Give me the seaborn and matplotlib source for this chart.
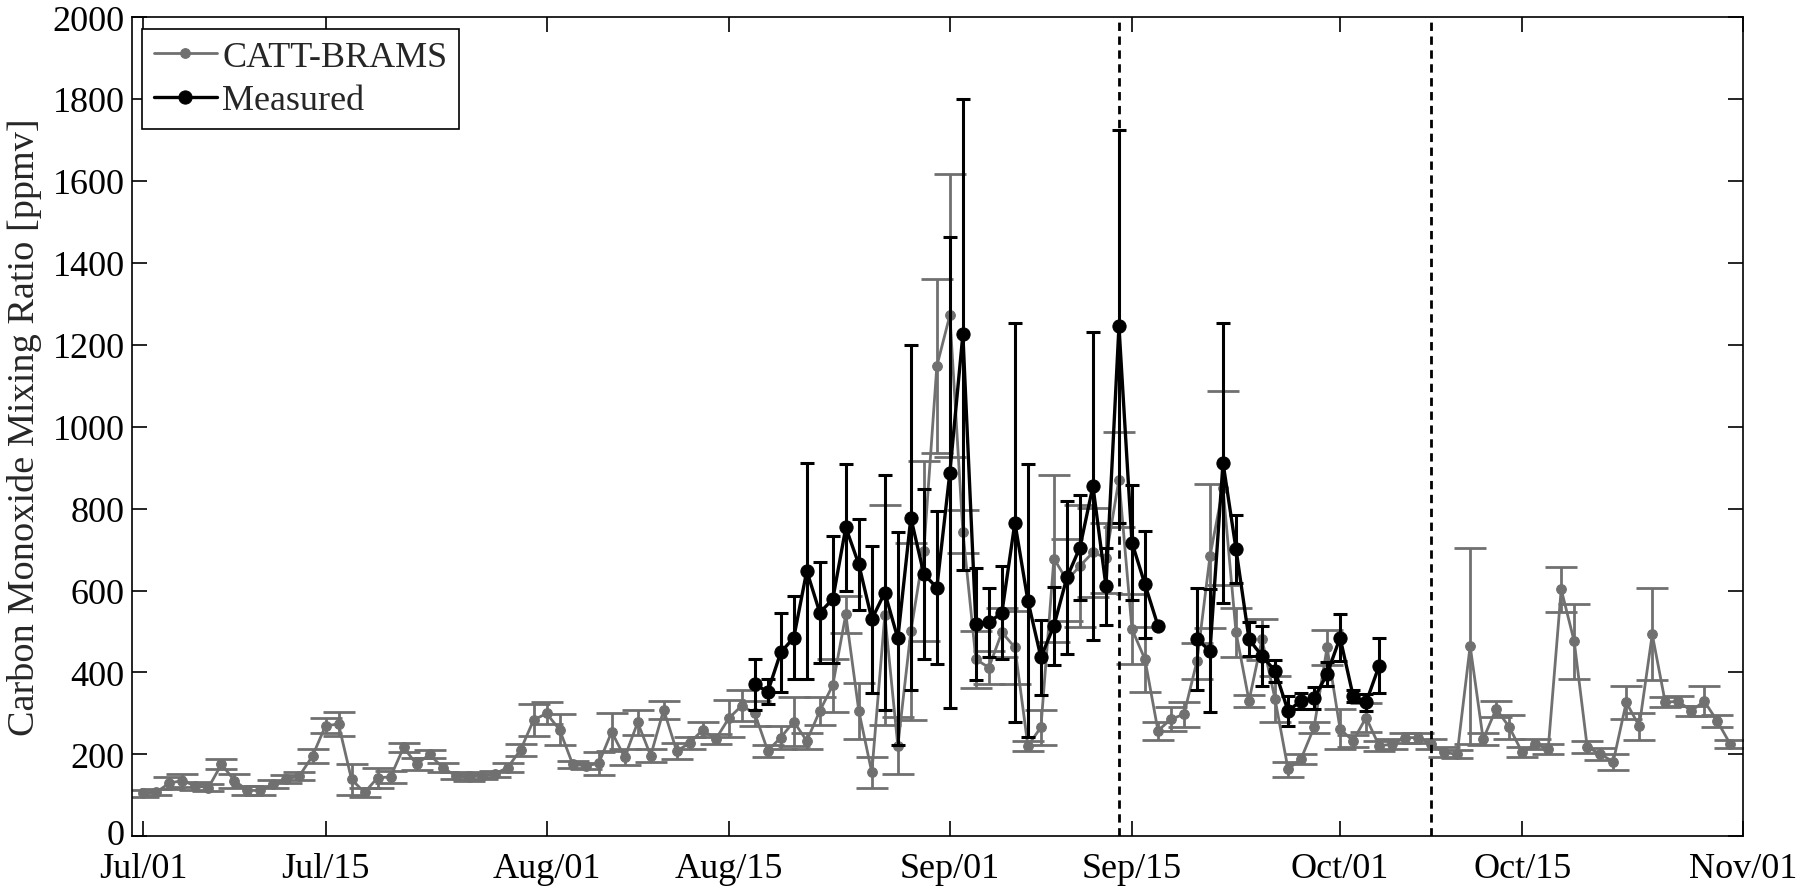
import numpy as np
import pandas as pd
import matplotlib
matplotlib.use("Agg")
import matplotlib.pyplot as plt
import matplotlib.transforms as mtransforms
import seaborn as sns

# ---------------- data ----------------
start_date = "2012-07-01"
catt_values = [105,108,130,136,123,119,176,136,112,112,127,139,148,196,270,274,139,107,143,145,217,176,200,168,148,144,148,152,168,211,
               284,300,260,176,172,178,255,193,278,197,309,208,228,260,237,288,319,300,209,241,280,233,306,369,542,306,156,540,221,500,
               697,1148,1272,744,432,412,498,461,221,266,678,625,660,693,680,871,506,432,258,286,298,428,684,850,498,331,481,335,164,189,
               266,461,262,233,290,221,225,241,241,225,205,200,465,237,311,267,205,225,213,603,476,218,201,182,327,269,493,327,330,306,330,281,225]
catt_err = [8,8,15,15,10,8,12,17,12,10,10,10,10,18,18,30,37,10,25,15,12,15,10,10,8,8,8,8,10,15,
            38,27,38,8,8,28,47,20,30,15,22,20,15,18,12,45,37,30,15,28,60,20,35,65,45,68,37,268,70,215,
            219,212,345,52,70,40,60,90,12,42,203,100,150,109,86,115,85,80,22,30,30,45,175,237,60,15,50,57,18,12,
            14,42,50,15,36,12,12,12,12,12,12,10,240,15,20,29,12,12,12,55,91,15,15,19,40,33,112,12,12,12,37,15,10]

meas_start = "2012-08-17"
nan = np.nan
meas_values = [371,353,449,485,648,546,579,754,664,530,595,483,778,640,607,888,1225,518,522,546,766,575,437,514,632,705,855,611,1245,717,615,514,
               nan,nan,481,453,912,701,481,440,404,306,331,337,396,485,343,327,416]
meas_err = [62,30,97,101,264,124,155,155,111,179,286,259,421,207,187,575,574,136,85,114,486,333,92,95,187,128,375,94,479,140,130,0,
            nan,nan,124,150,342,83,41,73,27,36,20,27,30,57,15,20,67]

vline_dates = ["2012-09-14", "2012-10-08"]
xtick_dates = ["2012-07-01","2012-07-15","2012-08-01","2012-08-15","2012-09-01",
               "2012-09-15","2012-10-01","2012-10-15","2012-11-01"]
xtick_labels = ["Jul/01","Jul/15","Aug/01","Aug/15","Sep/01","Sep/15","Oct/01","Oct/15","Nov/01"]
yticks = list(range(0, 2001, 200))
ylabel = "Carbon Monoxide Mixing Ratio [ppmv]"
series_names = ["CATT-BRAMS", "Measured"]

# ---------------- frames ----------------
catt_df = pd.DataFrame({
    "date": pd.date_range(start_date, periods=len(catt_values), freq="D"),
    "co": catt_values, "err": catt_err})
meas_df = pd.DataFrame({
    "date": pd.date_range(meas_start, periods=len(meas_values), freq="D"),
    "co": meas_values, "err": meas_err})
meas_df["seg"] = meas_df["co"].isna().cumsum()
meas_ok = meas_df.dropna()
meas_bars = meas_ok[meas_ok["err"] > 0]

# ---------------- style ----------------
sns.set_theme(style="ticks")
plt.rcParams["font.family"] = ["Liberation Serif", "DejaVu Serif"]
plt.rcParams["axes.linewidth"] = 1.2
plt.rcParams["xtick.direction"] = "in"
plt.rcParams["ytick.direction"] = "in"

GRAY = "#707070"
BLACK = "#000000"

fig = plt.figure(figsize=(18, 8.87), dpi=100)
ax = fig.add_axes([0.0732, 0.056, 0.8953, 0.9237])

# CATT-BRAMS
ax.errorbar(catt_df["date"], catt_df["co"], yerr=catt_df["err"], fmt="none",
            ecolor=GRAY, elinewidth=2.0, capsize=11.5, capthick=2.0, zorder=2)
sns.lineplot(data=catt_df, x="date", y="co", ax=ax, color=GRAY, linewidth=2.0,
             marker="o", markersize=7, markeredgecolor=GRAY, label=series_names[0],
             zorder=3, estimator=None)

# Measured
ax.errorbar(meas_bars["date"], meas_bars["co"], yerr=meas_bars["err"], fmt="none",
            ecolor=BLACK, elinewidth=2.2, capsize=4.8, capthick=2.2, zorder=4)
for i, (seg, sub) in enumerate(meas_ok.groupby("seg")):
    sns.lineplot(data=sub, x="date", y="co", ax=ax, color=BLACK, linewidth=2.4,
                 marker="o", markersize=9.5, markeredgecolor=BLACK,
                 label=series_names[1] if i == 0 else "_nolegend_", zorder=5,
                 estimator=None)

for d in vline_dates:
    ax.axvline(pd.Timestamp(d), color=BLACK, linestyle=(0, (3, 2)), linewidth=2.0, zorder=6)

# axes
x0 = pd.Timestamp(start_date) - pd.Timedelta(hours=21.5)
x1 = pd.Timestamp(xtick_dates[-1])
ax.set_xlim(x0, x1)
ax.set_ylim(0, 2000)
ax.set_xticks([pd.Timestamp(d) for d in xtick_dates])
ax.set_xticklabels(xtick_labels)
ax.set_yticks(yticks)
ax.tick_params(axis="both", which="both", direction="in", length=11, width=1.2,
               labelsize=26, top=True, right=True, colors="black")
ax.tick_params(axis="x", pad=11)
ax.tick_params(axis="y", pad=5)
ax.set_xlabel("")
ax.set_ylabel(ylabel, fontsize=27.5, labelpad=8)
for sp in ax.spines.values():
    sp.set_visible(True)
    sp.set_color("black")
    sp.set_linewidth(1.2)

# nudge the "0" y label up a few pixels so it does not touch "Jul/01"
zero_lbl = ax.get_yticklabels()[0]
zero_lbl.set_transform(zero_lbl.get_transform() +
                       mtransforms.ScaledTranslation(0, 5 / 100, fig.dpi_scale_trans))

leg = ax.legend(loc="upper left", bbox_to_anchor=(0.0064, 0.9854), borderaxespad=0,
                fontsize=26, frameon=True, fancybox=False, edgecolor="black",
                framealpha=1, handlelength=1.75, handletextpad=0.15, borderpad=0.32,
                labelspacing=0.28)
leg.get_frame().set_linewidth(1.2)

fig.savefig("out.png", dpi=100)
